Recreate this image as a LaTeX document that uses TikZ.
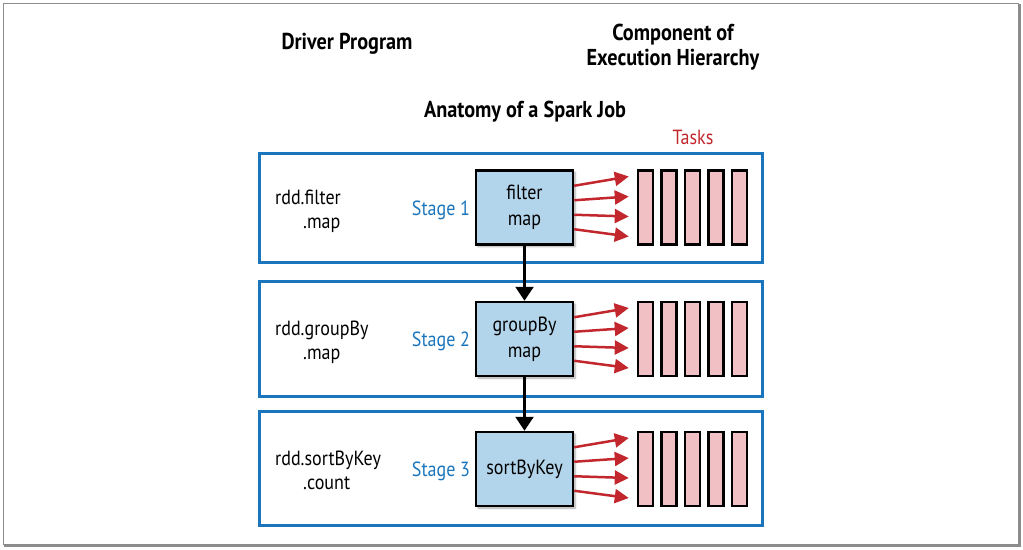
\documentclass[tikz,border=0pt]{standalone}
\usepackage{fontspec}
\setmainfont[FakeStretch=0.88]{PT Sans}
\usetikzlibrary{arrows.meta,calc,shadows.blur}
\definecolor{oblue}{HTML}{1B75BC}
\definecolor{ored}{HTML}{C1272D}
\definecolor{ofill}{HTML}{B3D5EB}
\definecolor{opink}{HTML}{F0C0C4}
\definecolor{oframe}{HTML}{8C8C8C}
\begin{document}
\begin{tikzpicture}[x=1pt,y=-1pt,
  stagebox/.style={draw=oblue, line width=3pt, minimum width=503pt, inner sep=0pt},
  opbox/.style={draw=black, line width=2.5pt, fill=ofill, minimum width=97pt, minimum height=74pt,
    inner sep=0pt, align=center, font=\fontsize{20.5}{26}\selectfont,
    blur shadow={shadow xshift=2pt, shadow yshift=-2pt, shadow blur steps=6, shadow opacity=35}},
  taskbar/.style={draw=black, line width=2.5pt, fill=opink, minimum width=15pt, minimum height=74pt, inner sep=0pt},
  header/.style={font=\bfseries\fontsize{23}{27}\selectfont, inner sep=0pt, anchor=base},
  codetxt/.style={font=\fontsize{20.5}{24}\selectfont, inner sep=0pt, anchor=base west},
  stagelbl/.style={text=oblue, font=\fontsize{20.5}{24}\selectfont, inner sep=0pt, anchor=base},
  tasklbl/.style={text=ored, font=\fontsize{20.5}{24}\selectfont, inner sep=0pt, anchor=base},
  taskarrow/.style={draw=ored, line width=2.5pt, -{Triangle[length=14pt,width=14pt]}},
  flow/.style={draw=black, line width=2.5pt, -{Triangle[length=14pt,width=18pt]}}
]
\useasboundingbox (0,0) rectangle (1023,549);
% frame
\draw[oframe, line width=1pt] (3,3) rectangle (1018,544);
\draw[oframe, line width=2pt] (1019.5,4) -- (1019.5,546) -- (4,546);

% headers
\node[header] (hdrDriver) at (347,49) {Driver Program};
\node[header] (hdrComp) at (673,40) {Component of};
\node[header] (hdrExec) at (673,65) {Execution Hierarchy};
\node[header] (hdrAnat) at (525,117) {Anatomy of a Spark Job};
\node[tasklbl] (hdrTasks) at (693,144) {Tasks};

% stage boxes
\node[stagebox, minimum height=109pt] (st1) at (510.5,207.5) {};
\node[stagebox, minimum height=115pt] (st2) at (510.5,338.5) {};
\node[stagebox, minimum height=114pt] (st3) at (510.5,468) {};

% operation boxes
\node[opbox] (op1) at (524.5,207.5) {filter\\map};
\node[opbox] (op2) at (524.5,339) {groupBy\\map};
\node[opbox] (op3) at (524.5,469) {sortByKey};

% driver code
\node[codetxt] (c1a) at (275,204) {rdd.filter};
\node[codetxt] (c1b) at (303,228) {.map};
\node[codetxt] (c2a) at (275,335.5) {rdd.groupBy};
\node[codetxt] (c2b) at (303,359.5) {.map};
\node[codetxt] (c3a) at (275,465.5) {rdd.sortByKey};
\node[codetxt] (c3b) at (303,489.5) {.count};

% stage labels
\node[stagelbl] (sl1) at (441,215) {Stage 1};
\node[stagelbl] (sl2) at (441,346.5) {Stage 2};
\node[stagelbl] (sl3) at (441,476.5) {Stage 3};

% task bars
\foreach \s/\y in {1/207.5,2/339,3/469}{
  \foreach \i in {1,...,5}{
    \node[taskbar] (t\s\i) at ({645.5+23.5*(\i-1)},\y) {};
  }
  \foreach \a/\b in {-21.75/-31,-7.25/-11,7.25/9,21.75/29}{
    \draw[taskarrow] ($(op\s.east)+(0,\a)$) -- ($(t\s1.west)+(-8,\b)$);
  }
}

% flow arrows
\draw[flow] (op1.south) -- (op2.north);
\draw[flow] (op2.south) -- (op3.north);
\end{tikzpicture}
\end{document}
